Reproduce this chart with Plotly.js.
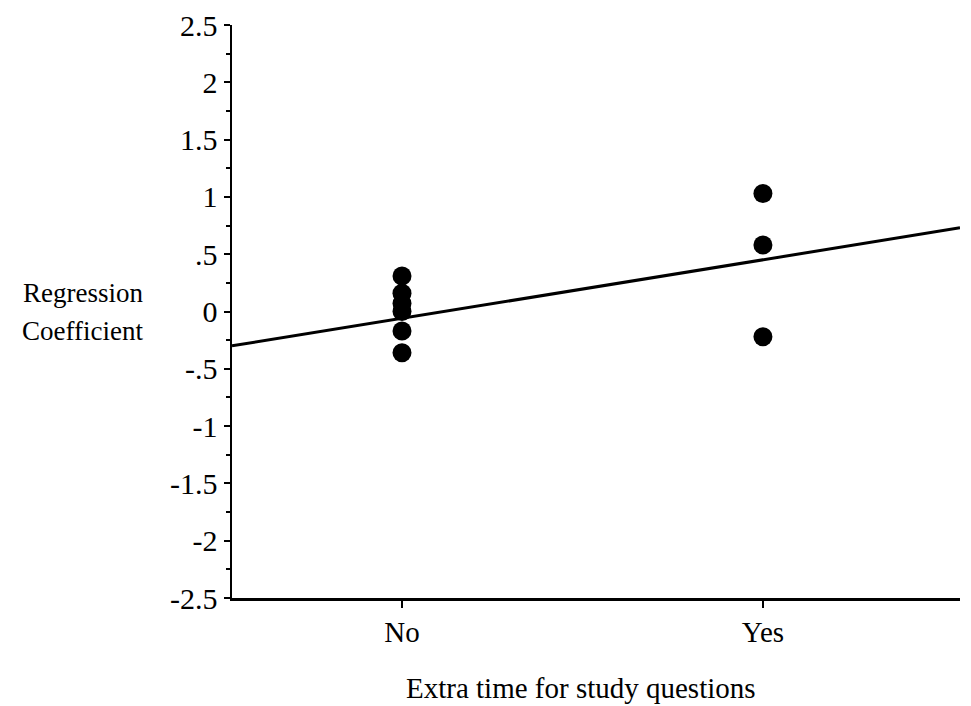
<!DOCTYPE html>
<html>
<head>
<meta charset="utf-8">
<script src="https://cdn.plot.ly/plotly-3.0.1.min.js"></script>
<style>html,body{margin:0;padding:0;background:#fff;}#chart{width:971px;height:706px;}</style>
</head>
<body>
<div id="chart"></div>
<script>
// Categories on the x axis (0 = No, 1 = Yes)
const categoryPositions = [0, 1];
const categoryLabels = ["No", "Yes"];

// Regression coefficients per group
const noX = [0, 0, 0, 0, 0, 0];
const noY = [0.31, 0.16, 0.07, 0.0, -0.17, -0.36];
const yesX = [1, 1, 1];
const yesY = [1.03, 0.58, -0.22];

// Fitted regression line endpoints
const lineX = [-0.471, 1.546];
const lineY = [-0.30, 0.73];

// Y tick values and labels
const yTickVals = [2.5, 2, 1.5, 1, 0.5, 0, -0.5, -1, -1.5, -2, -2.5];
const yTickText = ["2.5", "2", "1.5", "1", ".5", "0", "-.5", "-1", "-1.5", "-2", "-2.5"];

const font = {family: "Liberation Serif, Times New Roman, serif", color: "#000"};

const traces = [
  {x: lineX, y: lineY, mode: "lines", line: {color: "#000", width: 3}, hoverinfo: "skip", cliponaxis: false},
  {x: noX.concat(yesX), y: noY.concat(yesY), mode: "markers",
   marker: {color: "#000", size: 19, line: {width: 0}}, cliponaxis: false}
];

const layout = {
  width: 971, height: 706,
  paper_bgcolor: "#fff", plot_bgcolor: "#fff",
  showlegend: false,
  margin: {l: 232, r: 11, t: 25, b: 108},
  font: Object.assign({size: 29}, font),
  xaxis: {
    range: [-0.471, 1.546],
    tickvals: categoryPositions, ticktext: categoryLabels,
    showgrid: false, zeroline: false,
    showline: true, linecolor: "#000", linewidth: 2.5,
    ticks: "outside", ticklen: 7, tickwidth: 2, tickcolor: "#000",
    tickfont: Object.assign({size: 29}, font)
  },
  yaxis: {
    range: [-2.5, 2.5],
    tickvals: yTickVals, ticktext: yTickText,
    showgrid: false, zeroline: false,
    showline: true, linecolor: "#000", linewidth: 2.5,
    ticks: "outside", ticklen: 6, tickwidth: 2, tickcolor: "#000",
    tickfont: Object.assign({size: 30}, font),
    minor: {tickvals: [2.25, 1.75, 1.25, 0.75, 0.25, -0.25, -0.75, -1.25, -1.75, -2.25], ticks: "outside", ticklen: 4, tickwidth: 2, tickcolor: "#000"}
  },
  annotations: [
    {xref: "paper", yref: "paper", x: -0.2047, y: 0.533, xanchor: "center", yanchor: "middle",
     text: "Regression", showarrow: false, font: Object.assign({size: 27}, font)},
    {xref: "paper", yref: "paper", x: -0.2047, y: 0.466, xanchor: "center", yanchor: "middle",
     text: "Coefficient", showarrow: false, font: Object.assign({size: 27}, font)},
    {xref: "paper", yref: "paper", x: 0.479, y: -0.157, xanchor: "center", yanchor: "middle",
     text: "Extra time for study questions", showarrow: false, font: Object.assign({size: 29}, font)}
  ]
};

Plotly.newPlot("chart", traces, layout, {displayModeBar: false, staticPlot: true});
</script>
</body>
</html>
